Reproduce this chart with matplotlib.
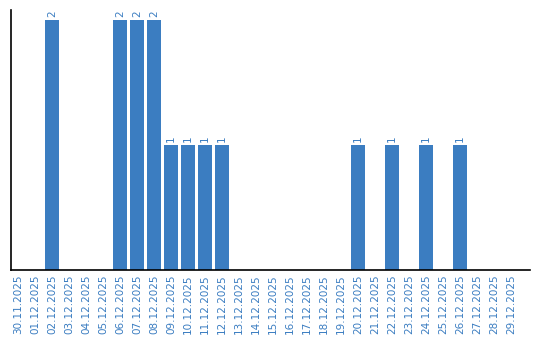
import matplotlib
matplotlib.use("Agg")
import matplotlib.pyplot as plt

dates = ["30.11.2025", "01.12.2025", "02.12.2025", "03.12.2025", "04.12.2025",
         "05.12.2025", "06.12.2025", "07.12.2025", "08.12.2025", "09.12.2025",
         "10.12.2025", "11.12.2025", "12.12.2025", "13.12.2025", "14.12.2025",
         "15.12.2025", "16.12.2025", "17.12.2025", "18.12.2025", "19.12.2025",
         "20.12.2025", "21.12.2025", "22.12.2025", "23.12.2025", "24.12.2025",
         "25.12.2025", "26.12.2025", "27.12.2025", "28.12.2025", "29.12.2025"]
counts = [0, 0, 2, 0, 0, 0, 2, 2, 2, 1, 1, 1, 1, 0, 0,
          0, 0, 0, 0, 0, 1, 0, 1, 0, 1, 0, 1, 0, 0, 0]

blue = "#3b7dc1"

fig = plt.figure(figsize=(5.4, 3.4), dpi=100)
ax = fig.add_axes([0.0204, 0.2059, 0.9611, 0.7647])
x = list(range(len(dates)))
ax.bar(x, counts, width=0.82, color=blue)
for xi, v in zip(x, counts):
    if v > 0:
        ax.text(xi, v + 0.02, str(v), rotation=90, ha="center", va="bottom",
                color=blue, fontsize=7.5)
ax.set_xlim(-0.41, 30.1)
ax.set_ylim(0, 2.08)
ax.set_xticks(x)
ax.set_xticklabels(dates, rotation=90, color=blue, fontsize=7.5)
ax.tick_params(axis="x", length=0, pad=3)
ax.set_yticks([])
ax.spines["top"].set_visible(False)
ax.spines["right"].set_visible(False)
ax.spines["left"].set_linewidth(1.2)
ax.spines["bottom"].set_linewidth(1.2)
fig.savefig("out.png", dpi=100)
